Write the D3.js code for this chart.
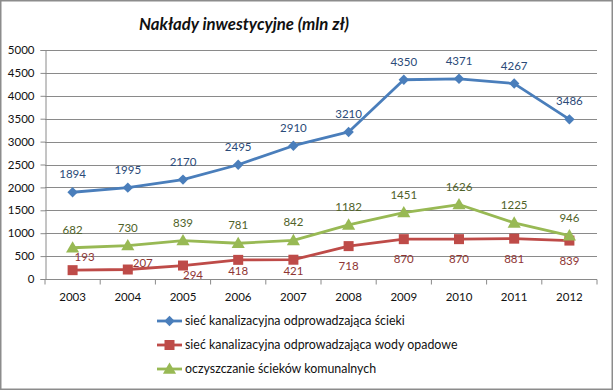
<!DOCTYPE html>
<html><head><meta charset="utf-8">
<script src="https://cdn.jsdelivr.net/npm/d3@7"></script>
<style>
html,body{margin:0;padding:0;background:#fff;}
svg{display:block;font-family:Lato,"Open Sans",sans-serif;}
</style></head>
<body>
<svg id="chart" width="613" height="390"></svg>
<script>
const years = ["2003","2004","2005","2006","2007","2008","2009","2010","2011","2012"];
const sciekiValues = [1894,1995,2170,2495,2910,3210,4350,4371,4267,3486];
const opadoweValues = [193,207,294,418,421,718,870,870,881,839];
const oczyszczanieValues = [682,730,839,781,842,1182,1451,1626,1225,946];
const seriesNames = [
  "sieć kanalizacyjna odprowadzająca ścieki",
  "sieć kanalizacyjna odprowadzająca wody opadowe",
  "oczyszczanie ścieków komunalnych"
];
const yTicks = [0,500,1000,1500,2000,2500,3000,3500,4000,4500,5000];
const titleText = "Nakłady inwestycyjne (mln zł)";

const svg = d3.select("#chart");
const W = 613, H = 390;
const pLeft = 45, pRight = 597, pTop = 50, pBottom = 279;

svg.append("rect").attr("x",0.75).attr("y",0.75).attr("width",W-1.5).attr("height",H-1.5)
  .attr("fill","#fff").attr("stroke","#8c8c8c").attr("stroke-width",1.5);

svg.append("text").attr("x",244).attr("y",30).attr("text-anchor","middle")
  .attr("font-size",16.8).attr("font-weight","bold").attr("font-style","italic")
  .attr("fill","#111").text(titleText);

const x = d3.scaleBand().domain(years).range([pLeft,pRight]);
const y = d3.scaleLinear().domain([0,5000]).range([pBottom,pTop]);
const cx = d => x(d) + x.bandwidth()/2;

// gridlines
svg.append("g").selectAll("line").data(yTicks.filter(t=>t>0)).join("line")
  .attr("x1",pLeft).attr("x2",pRight).attr("y1",d=>Math.round(y(d))+0.5).attr("y2",d=>Math.round(y(d))+0.5)
  .attr("stroke","#8a8a8a").attr("stroke-width",1);

// y axis
const yAxis = svg.append("g").attr("transform",`translate(${pLeft+0.5},0)`)
  .call(d3.axisLeft(y).tickValues(yTicks).tickSize(5).tickPadding(6).tickFormat(d3.format("d")));
yAxis.select(".domain").attr("stroke","#8a8a8a");
yAxis.selectAll(".tick line").attr("stroke","#8a8a8a");
yAxis.selectAll("text").attr("font-size",11.5).attr("fill","#111").attr("font-family","Lato,sans-serif");

// x axis with ticks between categories
const xg = svg.append("g").attr("transform",`translate(0,${Math.round(pBottom)+0.5})`);
xg.append("line").attr("x1",pLeft).attr("x2",pRight).attr("stroke","#8a8a8a");
const bounds = years.map(d=>x(d)).concat([pRight]);
xg.selectAll("line.tk").data(bounds).join("line").attr("class","tk")
  .attr("x1",d=>d).attr("x2",d=>d).attr("y1",0).attr("y2",5).attr("stroke","#8a8a8a");
xg.selectAll("text").data(years).join("text")
  .attr("x",d=>cx(d)).attr("y",21).attr("text-anchor","middle")
  .attr("font-size",11.5).attr("fill","#111").text(d=>d);

const colors = ["#4A7EBB","#BE4B48","#98B954"];
const labelColors = ["#2A4A78","#8E3533","#4F6228"];
const allSeries = [sciekiValues, opadoweValues, oczyszczanieValues];
const line = d3.line().x((d,i)=>cx(years[i])).y(d=>y(d));

function marker(g, type, color, px, py){
  if(type===0){
    g.append("path").attr("d","M0,-5.2L5.2,0L0,5.2L-5.2,0Z").attr("transform",`translate(${px},${py})`).attr("fill",color);
  } else if(type===1){
    g.append("rect").attr("x",px-5).attr("y",py-5).attr("width",10).attr("height",10).attr("fill",color);
  } else {
    g.append("path").attr("d",d3.symbol(d3.symbolTriangle,75)()).attr("transform",`translate(${px},${py+1})`).attr("fill",color);
  }
}

allSeries.forEach((vals,s)=>{
  const g = svg.append("g");
  g.append("path").datum(vals).attr("d",line).attr("fill","none")
    .attr("stroke",colors[s]).attr("stroke-width",2.8).attr("stroke-linejoin","round");
  vals.forEach((v,i)=>marker(g,s,colors[s],cx(years[i]),y(v)));
});

// data labels
const redNudge = {0:[12,-13],1:[15,-7],2:[10,9]};
allSeries.forEach((vals,s)=>{
  svg.append("g").selectAll("text").data(vals).join("text")
    .attr("x",(d,i)=>{ let px=cx(years[i]); if(s===1&&redNudge[i]) px+=redNudge[i][0]; return px; })
    .attr("y",(d,i)=>{
      const py=y(d);
      if(s===1){
        if(redNudge[i]) return py+redNudge[i][1]+4;
        return Math.min(py+20, pBottom-8)+4;
      }
      return py-18+4;
    })
    .attr("text-anchor","middle").attr("font-size",11.5).attr("fill",labelColors[s]).text(d=>d);
});

// legend
const legY = [321,345,369];
seriesNames.forEach((n,s)=>{
  const g = svg.append("g");
  g.append("line").attr("x1",157).attr("x2",182).attr("y1",legY[s]).attr("y2",legY[s])
    .attr("stroke",colors[s]).attr("stroke-width",2.8);
  marker(g,s,colors[s],169.5,legY[s]);
  g.append("text").attr("x",185).attr("y",legY[s]+4).attr("font-size",12.4).attr("fill","#111").text(n);
});
</script>
</body></html>
